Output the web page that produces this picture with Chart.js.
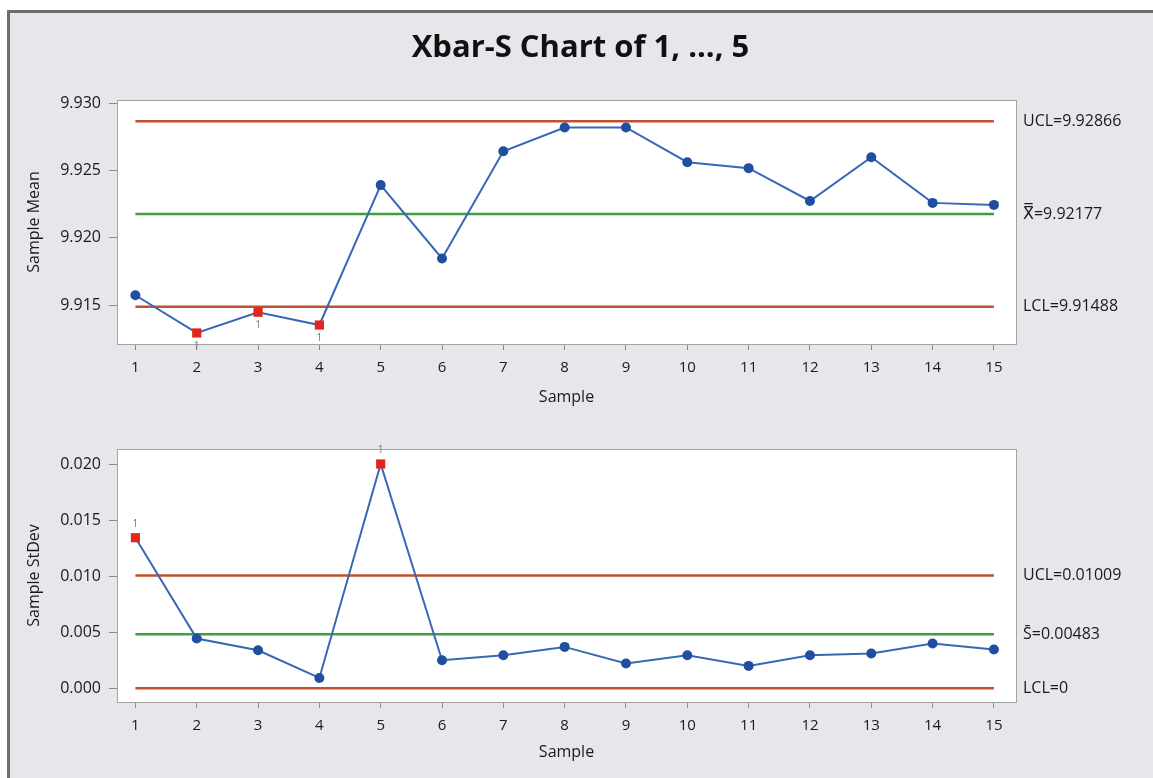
<!DOCTYPE html>
<html>
<head>
<meta charset="utf-8">
<script src="https://cdn.jsdelivr.net/npm/chart.js@4.4.1/dist/chart.umd.min.js"></script>
<style>
    body { margin: 0; background: #fff; width: 1153px; height: 778px; overflow: hidden; position: relative; font-family: "Open Sans", "DejaVu Sans", sans-serif; }
    #frame { position: absolute; left: 7px; top: 10px; right: 0; bottom: 0; background: #e6e7eb; border-left: 3px solid #6e6e6e; border-top: 3px solid #6e6e6e; }
    #title { position: absolute; left: 4px; width: 1153px; top: 24px; text-align: center; font-size: 31px; font-weight: 700; color: #111; z-index: 2; letter-spacing: 0px; }
    canvas { position: absolute; left: 0; }
    #meanChart { top: 0; }
    #sdChart { top: 415px; }
</style>
</head>
<body>
<div id="frame"></div>
<div id="title">Xbar-S Chart of 1, ..., 5</div>
<canvas id="meanChart" width="1153" height="415"></canvas>
<canvas id="sdChart" width="1153" height="363"></canvas>
<script>
// --- data ---
const samples = [1, 2, 3, 4, 5, 6, 7, 8, 9, 10, 11, 12, 13, 14, 15];
const sampleMeans = [9.91574, 9.91294, 9.91448, 9.91353, 9.92392, 9.91847, 9.92643, 9.92820, 9.92820, 9.92562, 9.92518, 9.92274, 9.92599, 9.92260, 9.92245];
const sampleStDevs = [0.01347, 0.00445, 0.00340, 0.00092, 0.02007, 0.00251, 0.00296, 0.00370, 0.00221, 0.00296, 0.00200, 0.00296, 0.00311, 0.00401, 0.00347];
const meanLimits = [9.92866, 9.92177, 9.91488];   // UCL, center, LCL
const sdLimits = [0.01009, 0.00483, 0];
const meanLimitLabels = ['UCL=9.92866', 'X\u033F=9.92177', 'LCL=9.91488'];
const sdLimitLabels = ['UCL=0.01009', 'S\u0304=0.00483', 'LCL=0'];
const meanFlagged = [2, 3, 4];      // test 1 failures
const sdFlagged = [1, 5];
const meanTicks = [9.915, 9.920, 9.925, 9.930];
const sdTicks = [0.000, 0.005, 0.010, 0.015, 0.020];

const FONT = '"Open Sans", "DejaVu Sans", sans-serif';
const TEXT = '#1a1a1a';
const LIMIT_RED = '#c1502e';
const CENTER_GREEN = '#3d9f3d';
const LINE_BLUE = '#3867b5';
const DOT_BLUE = '#1f4f9e';
const FLAG_RED = '#e2261d';

// plot background + box + limit labels + "1" flags
const controlChartPlugin = {
    id: 'controlChart',
    beforeDraw(chart) {
        const { ctx, chartArea: a } = chart;
        ctx.save();
        ctx.fillStyle = '#ffffff';
        ctx.fillRect(a.left, a.top, a.right - a.left, a.bottom - a.top);
        ctx.restore();
    },
    afterDatasetsDraw(chart, args, opts) {
        const { ctx, chartArea: a } = chart;
        const yScale = chart.scales.y;
        const xScale = chart.scales.x;
        ctx.save();
        ctx.strokeStyle = '#a3a3a3';
        ctx.lineWidth = 1;
        ctx.strokeRect(a.left + 0.5, a.top + 0.5, a.right - a.left, a.bottom - a.top);

        ctx.fillStyle = TEXT;
        ctx.font = '16px ' + FONT;
        ctx.textAlign = 'left';
        ctx.textBaseline = 'middle';
        opts.limits.forEach((v, i) => {
            ctx.fillText(opts.labels[i], a.right + 7, yScale.getPixelForValue(v));
        });

        ctx.fillStyle = '#777';
        ctx.font = '10px ' + FONT;
        ctx.textAlign = 'center';
        opts.flagged.forEach(s => {
            const idx = samples.indexOf(s);
            const px = xScale.getPixelForValue(s);
            const py = yScale.getPixelForValue(opts.values[idx]);
            ctx.fillText('1', px, py + opts.flagOffset);
        });
        ctx.restore();
    }
};

function limitDataset(value, color) {
    return {
        data: [{ x: samples[0], y: value }, { x: samples[samples.length - 1], y: value }],
        borderColor: color,
        borderWidth: 2.5,
        pointRadius: 0,
        fill: false
    };
}

function renderControlChart(canvasId, cfg) {
    const ctx = document.getElementById(canvasId).getContext('2d');
    const flaggedSet = new Set(cfg.flagged);
    const seriesData = samples.map((s, i) => ({ x: s, y: cfg.values[i] }));

    return new Chart(ctx, {
        type: 'line',
        data: {
            datasets: [
                {
                    data: seriesData,
                    borderColor: LINE_BLUE,
                    borderWidth: 2,
                    pointStyle: samples.map(s => flaggedSet.has(s) ? 'rect' : 'circle'),
                    pointRadius: samples.map(s => flaggedSet.has(s) ? 6.5 : 5),
                    pointBackgroundColor: samples.map(s => flaggedSet.has(s) ? FLAG_RED : DOT_BLUE),
                    pointBorderColor: samples.map(s => flaggedSet.has(s) ? FLAG_RED : DOT_BLUE),
                    pointBorderWidth: 0,
                    tension: 0
                },
                limitDataset(cfg.limits[0], LIMIT_RED),
                limitDataset(cfg.limits[1], CENTER_GREEN),
                limitDataset(cfg.limits[2], LIMIT_RED)
            ]
        },
        options: {
            responsive: false,
            animation: false,
            devicePixelRatio: 1,
            layout: { padding: { top: cfg.padTop, right: 137, left: 0, bottom: 0 } },
            plugins: {
                legend: { display: false },
                tooltip: { enabled: false },
                controlChart: {
                    limits: cfg.limits, labels: cfg.labels, flagged: cfg.flagged,
                    values: cfg.values, flagOffset: cfg.flagOffset
                }
            },
            scales: {
                x: {
                    type: 'linear',
                    min: 0.70, max: 15.36,
                    afterBuildTicks: scale => { scale.ticks = samples.map(v => ({ value: v })); },
                    afterFit: scale => { scale.height = cfg.xHeight; },
                    grid: { drawOnChartArea: false, drawTicks: true, tickLength: 6, color: '#8c8c8c' },
                    border: { display: false },
                    ticks: { color: TEXT, font: { family: FONT, size: 15 }, padding: cfg.xTickPad, maxRotation: 0, callback: v => String(v) },
                    title: { display: true, text: 'Sample', color: TEXT, font: { family: FONT, size: 16 }, padding: { top: 0, bottom: cfg.xTitlePad } }
                },
                y: {
                    type: 'linear',
                    min: cfg.yMin, max: cfg.yMax,
                    afterBuildTicks: scale => { scale.ticks = cfg.yTicks.map(v => ({ value: v })); },
                    afterFit: scale => { scale.width = 117; },
                    grid: { drawOnChartArea: false, drawTicks: true, tickLength: 8, color: '#8c8c8c' },
                    border: { display: false },
                    ticks: { color: TEXT, font: { family: FONT, size: 16 }, padding: 8, callback: v => v.toFixed(3) },
                    title: { display: true, text: cfg.yTitle, color: TEXT, font: { family: FONT, size: 16 }, padding: { top: 25, bottom: 0 } }
                }
            }
        },
        plugins: [controlChartPlugin]
    });
}

renderControlChart('meanChart', {
    values: sampleMeans, limits: meanLimits, labels: meanLimitLabels, flagged: meanFlagged,
    yTicks: meanTicks, yMin: 9.91212, yMax: 9.93024, yTitle: 'Sample Mean',
    padTop: 100, xHeight: 71, xTickPad: 9, xTitlePad: 8, flagOffset: 13
});

renderControlChart('sdChart', {
    values: sampleStDevs, limits: sdLimits, labels: sdLimitLabels, flagged: sdFlagged,
    yTicks: sdTicks, yMin: -0.00123, yMax: 0.02141, yTitle: 'Sample StDev',
    padTop: 34, xHeight: 76, xTickPad: 9, xTitlePad: 16, flagOffset: -14
});
</script>
</body>
</html>
